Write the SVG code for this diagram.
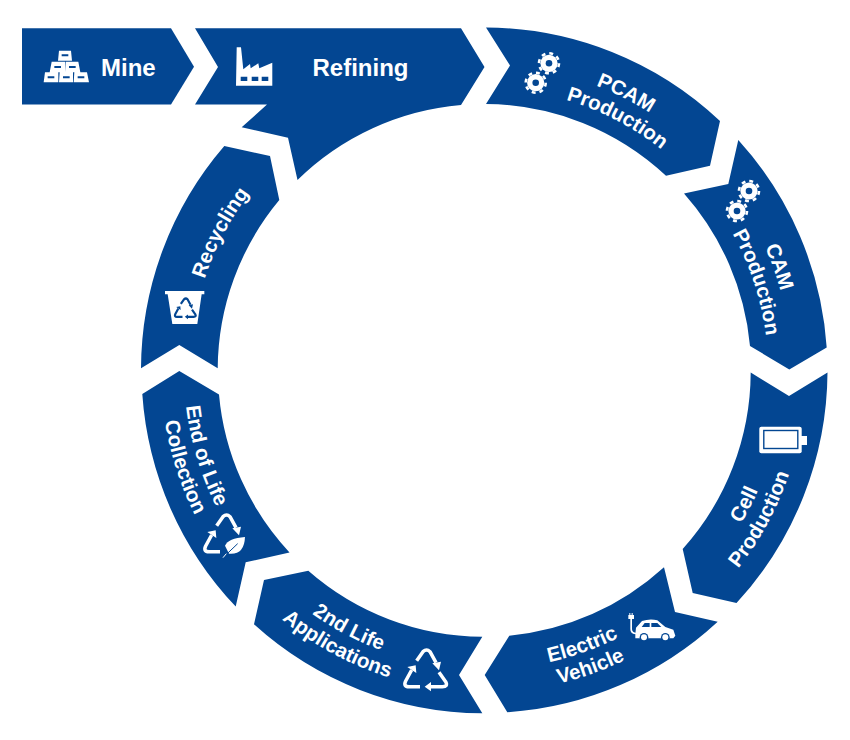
<svg xmlns="http://www.w3.org/2000/svg" width="850" height="740" viewBox="0 0 850 740">
<style>
.s{fill:#034692}
.t{fill:#fff;font-family:"Liberation Sans",Arial,sans-serif;font-weight:700;font-size:20.5px;text-anchor:middle}
.h{fill:#fff;font-family:"Liberation Sans",Arial,sans-serif;font-weight:700;font-size:24px}
.w{fill:#fff}
.b{fill:#034692}
.ln{fill:none;stroke:#fff;stroke-width:10.5;stroke-linejoin:round;stroke-linecap:butt}
</style>
<defs>
<path id="cw307" d="M250,174.3 A307,307 0 0 1 720,174.3"/>
<path id="cw283" d="M268.2,189 A283,283 0 0 1 701.8,189"/>
<path id="cw295" d="M259,181.3 A295,295 0 0 1 711,181.3"/>
<path id="ccw298" d="M256.7,562.6 A298,298 0 0 0 713.3,562.6"/>
<path id="ccw321" d="M239.1,577.4 A321,321 0 0 0 730.9,577.4"/>
<path id="ccw301" d="M254.4,564.5 A301,301 0 0 0 715.6,564.5"/>
<path id="ccw324" d="M236.8,579.3 A324,324 0 0 0 733.2,579.3"/>
<g id="gear">
<circle r="8.6" class="w"/>
<circle r="10" fill="none" stroke="#fff" stroke-width="2.6" stroke-dasharray="3.9 3.95"/>
<circle r="3.3" class="b"/>
</g>
<g id="a1">
<path d="M-27,-33 L-8,-60 Q3,-70 13,-60 L31,-27"/>
</g>
<g id="a3">
<path d="M-17,45 L-50,45 Q-68,45 -60,28 L-42,-5"/>
</g>
<g id="a2">
<path d="M40,2 L60,30 Q68,45 50,45 L13,45"/>
</g>
</defs>

<g id="mine">
<polygon class="s" points="22,28.3 171,28.3 194,66.7 171,104.5 22,104.5"/>
<g transform="translate(35 40) scale(.3333)">
<path class="w" d="M72,32H108L111,62H69ZM50,65H90V97H44ZM92,65H130L136,97H90ZM30,97H70V127H26ZM74,97H114V127H72ZM118,97H156L162,127H116Z"/>
<path class="b" d="M80,43H100V49H80ZM58,78H78V84H58ZM102,78H122V84H102ZM38,109H58V115H38ZM84,109H104V115H84ZM128,109H148V115H128Z"/>
</g>
<text class="h" x="101" y="76">Mine</text>
</g>

<g id="refining">
<path class="s" d="M195,28.3H461L484.5,67L461,105A266,266 0 0 0 297.5,180L288,137.7L241.7,127.3L267,104.5H195L218,67Z"/>
<polygon class="w" points="236.7,47.3 241,47.3 243.3,69.3 250,64 250.7,68.3 258.3,63.3 259.3,68.3 272.3,62.7 272.3,85.7 236,85.7"/>
<path class="b" d="M240.7,76.7h6.6v4.3h-6.6zM251.7,76.7h6.6v4.3h-6.6zM261.7,76.7h6.6v4.3h-6.6z"/>
<text class="h" x="312.5" y="76">Refining</text>
</g>

<g id="pcam">
<path class="s" d="M486,27.5A343,343 0 0 1 720,121L710,165.7L666,175.7A266,266 0 0 0 486,104L510,65.5Z"/>
<use href="#gear" x="549" y="63.3"/>
<use href="#gear" x="535.7" y="82.7"/>
<g transform="rotate(26.9 485 371)"><text class="t"><textPath href="#cw307" startOffset="50%">PCAM</textPath></text></g>
<g transform="rotate(27.6 485 371)"><text class="t"><textPath href="#cw283" startOffset="50%">Production</textPath></text></g>
</g>

<g id="cam">
<path class="s" d="M738.3,140A343,343 0 0 1 826.7,347.5L789.3,369.5L750,346A266,266 0 0 0 684,193.5L728.3,184Z"/>
<use href="#gear" x="749" y="191"/>
<use href="#gear" x="737" y="211"/>
<g transform="rotate(70.5 485 371)"><text class="t"><textPath href="#cw307" startOffset="50%">CAM</textPath></text></g>
<g transform="rotate(71.9 485 371)"><text class="t"><textPath href="#cw283" startOffset="50%">Production</textPath></text></g>
</g>

<g id="cell">
<path class="s" d="M750.7,372.5L789,396L827.5,372.5A343,343 0 0 1 736.5,603L692.7,593L682.7,549A266,266 0 0 0 750.7,372.5Z"/>
<rect class="w" x="759.3" y="426.7" width="42.4" height="26.6" rx="2"/>
<rect class="w" x="801" y="436" width="6" height="9"/>
<rect x="763.8" y="430.5" width="34" height="18" fill="#fff" stroke="#034692" stroke-width="1.4"/>
<g transform="rotate(-62.8 485 371)"><text class="t"><textPath href="#ccw298" startOffset="50%">Cell</textPath></text></g>
<g transform="rotate(-61.7 485 371)"><text class="t"><textPath href="#ccw321" startOffset="50%">Production</textPath></text></g>
</g>

<g id="ev">
<path class="s" d="M664,567.3L675,612L717.7,621.7A343,343 0 0 1 507.3,712.3L484.7,675L509.3,635.7A266,266 0 0 0 664,567.3Z"/>
<g transform="translate(620 605) scale(.3333)">
<path class="w" d="M25,30H28V24H31V30H35V24H38V30H42V42H36V72Q36,82 50,84V88Q30,88 31,72V42H25Z"/>
<path class="w" d="M46,88L48,68L66,48Q90,40 112,46L136,66L160,74L166,92L160,100H46Z"/>
<path class="b" d="M65,66L74,54H89V66ZM94,54H112L124,66H94Z"/>
<circle cx="72" cy="97" r="13" class="b"/><circle cx="72" cy="97" r="9" class="w"/>
<circle cx="136" cy="97" r="13" class="b"/><circle cx="136" cy="97" r="9" class="w"/>
</g>
<g transform="rotate(-19.5 485 371)"><text class="t"><textPath href="#ccw298" startOffset="50%">Electric</textPath></text></g>
<g transform="rotate(-19.6 485 371)"><text class="t"><textPath href="#ccw321" startOffset="50%">Vehicle</textPath></text></g>
</g>

<g id="second-life">
<path class="s" d="M264,580L308.3,570.7A266,266 0 0 0 482.3,636.7L459,675L482.3,713.3A343,343 0 0 1 254,624.3Z"/>
<g transform="translate(395 640) scale(.3333) translate(92 95)">
<g class="ln"><use href="#a1"/><use href="#a2"/><use href="#a3"/></g>
<path class="w" d="M20,-25L46,-30L40,-4ZM-3,45L16,31V59ZM-30,-19L-55,-14L-28,4Z"/>
</g>
<g transform="rotate(27.9 485 371)"><text class="t"><textPath href="#ccw298" startOffset="50%">2nd Life</textPath></text></g>
<g transform="rotate(28.3 485 371)"><text class="t"><textPath href="#ccw321" startOffset="50%">Applications</textPath></text></g>
</g>

<g id="end-of-life">
<path class="s" d="M179.3,371L219,394.4A266,266 0 0 0 289.5,552.4L245.7,562.3L235.7,606.5A343,343 0 0 1 142.3,394Z"/>
<g transform="translate(195 505) scale(.3333)">
<g transform="translate(92 95)">
<g class="ln"><use href="#a1"/><use href="#a3"/></g>
<path class="w" d="M20,-25L46,-30L40,-4ZM-30,-19L-55,-14L-28,4Z"/>
</g>
<path class="w" d="M90,122Q100,100 150,96Q148,150 102,146Z"/>
<path d="M84,158L128,116" fill="none" stroke="#034692" stroke-width="3"/>
<path d="M84,158L94,146" fill="none" stroke="#fff" stroke-width="3"/>
</g>
<g transform="rotate(73.2 485 371)"><text class="t"><textPath href="#ccw301" startOffset="50%">End of Life</textPath></text></g>
<g transform="rotate(72.3 485 371)"><text class="t"><textPath href="#ccw324" startOffset="50%">Collection</textPath></text></g>
</g>

<g id="recycling">
<path class="s" d="M224.3,146L270,156L279.3,200A266,266 0 0 0 217.7,368.3L179.3,345L141,368.3A343,343 0 0 1 224.3,146Z"/>
<g transform="translate(155 280) scale(.3333)">
<path class="w" d="M30,33H148V43H140L127,132H52L38,43H30Z"/>
<g transform="translate(91 88) scale(.5)">
<g class="ln" style="stroke:#034692;stroke-width:13"><use href="#a1"/><use href="#a2"/><use href="#a3"/></g>
<path class="b" d="M20,-25L46,-30L40,-4ZM-3,45L16,31V59ZM-30,-19L-55,-14L-28,4Z"/>
</g>
</g>
<g transform="rotate(-62.4 485 371)"><text class="t"><textPath href="#cw295" startOffset="50%">Recycling</textPath></text></g>
</g>
</svg>
